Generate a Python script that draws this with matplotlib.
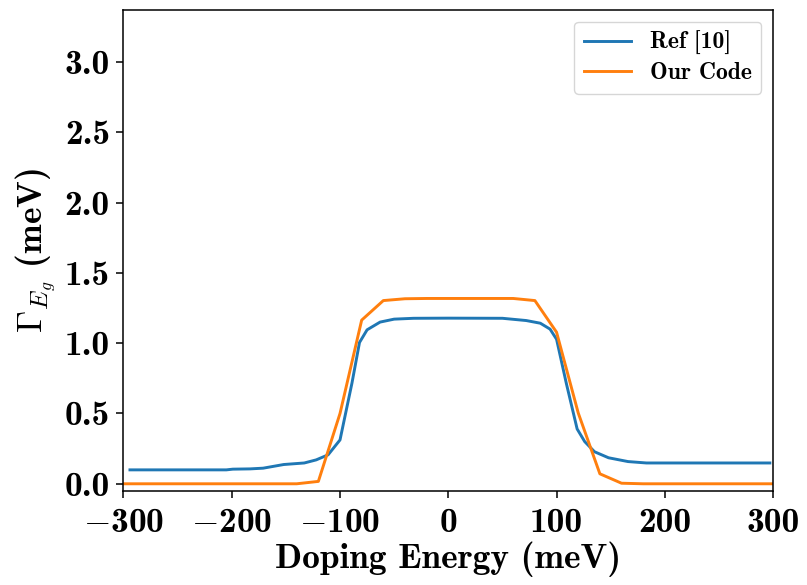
import matplotlib
matplotlib.use("Agg")
import matplotlib.pyplot as plt
from matplotlib.ticker import FuncFormatter

plt.rcParams["mathtext.fontset"] = "cm"
plt.rcParams["font.family"] = ["cmb10", "DejaVu Serif"]
plt.rcParams["axes.unicode_minus"] = False
plt.rcParams["axes.linewidth"] = 1.1

ref_energy = [-294, -205, -199, -183, -171, -152, -133, -122, -111, -100, -89, -82,
              -75, -63, -50, -32, 0, 50, 72, 85, 94, 100, 109, 119, 126, 135,
              148, 166, 183, 297]
ref_gamma = [0.099, 0.099, 0.104, 0.106, 0.111, 0.137, 0.148, 0.170, 0.206, 0.312,
             0.715, 1.005, 1.095, 1.150, 1.171, 1.177, 1.178, 1.177, 1.161, 1.142,
             1.100, 1.028, 0.715, 0.390, 0.300, 0.228, 0.185, 0.158, 0.148, 0.148]

# Our code, sampled every 20 meV
our_energy = list(range(-300, 301, 20))
our_gamma = [0, 0, 0, 0, 0, 0, 0, 0, 0, 0.017, 0.50, 1.164, 1.303, 1.316, 1.318,
             1.318, 1.318, 1.318, 1.318, 1.303, 1.078, 0.504, 0.071, 0.004,
             0, 0, 0, 0, 0, 0, 0]

x_ticks = [-300, -200, -100, 0, 100, 200, 300]
y_ticks = [0.0, 0.5, 1.0, 1.5, 2.0, 2.5, 3.0]


def fmt_x(v, pos):
    v = int(round(v))
    return (r"$-$" if v < 0 else "") + str(abs(v))


def fmt_y(v, pos):
    return "%.1f" % v


fig = plt.figure(figsize=(8.07, 5.85), dpi=100)
ax = fig.add_axes([0.153, 0.161, 0.805, 0.822])

ax.plot(ref_energy, ref_gamma, color="#1f77b4", lw=2.1, label="Ref [10]")
ax.plot(our_energy, our_gamma, color="#ff7f0e", lw=2.1, label="Our Code")

ax.set_xlim(-300, 300)
ax.set_ylim(-0.05, 3.37)
ax.set_xticks(x_ticks)
ax.set_yticks(y_ticks)
ax.xaxis.set_major_formatter(FuncFormatter(fmt_x))
ax.yaxis.set_major_formatter(FuncFormatter(fmt_y))
ax.tick_params(labelsize=25.5, length=4.9, width=1.1, pad=4.9)
ax.tick_params(axis="x", pad=7.5)

ax.set_xlabel("Doping Energy (meV)", fontsize=25.5, labelpad=2)
ax.set_ylabel(r"$\mathbf{\Gamma}_{E_g}$ (meV)", fontsize=25.5, labelpad=5.6)

ax.legend(loc="upper right", fontsize=17, handlelength=2.0, labelspacing=0.3,
          borderaxespad=0.5)

fig.savefig("out.png", dpi=100)
